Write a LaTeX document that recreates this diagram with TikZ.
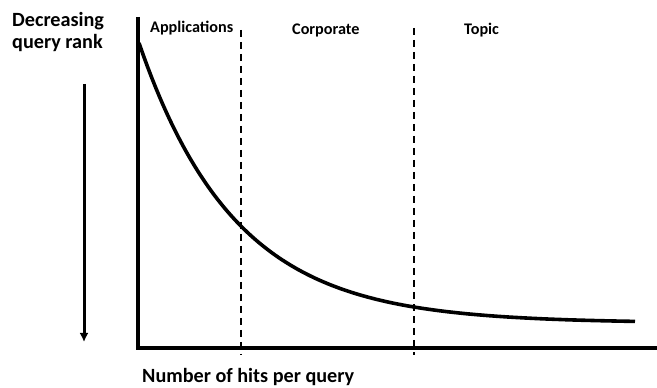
\documentclass[tikz,border=0pt]{standalone}
\usepackage{fontspec}
\setmainfont{Carlito}
\usetikzlibrary{arrows.meta}
\begin{document}
\begin{tikzpicture}[x=1pt,y=1pt,
  lbl/.style={font=\bfseries\fontsize{20.2}{22}\selectfont, inner sep=0pt, anchor=base west},
  reg/.style={font=\bfseries\fontsize{16.2}{18}\selectfont, inner sep=0pt, anchor=base west},
  axis/.style={line width=3.4pt},
  divider/.style={line width=1.7pt, dash pattern=on 7pt off 5pt},
  curve/.style={line width=3.6pt}]
\useasboundingbox (0,0) rectangle (657,388);
% labels
\node[lbl] (dec) at (12,361) {Decreasing};
\node[lbl] (qr) at (12,339) {query rank};
\node[reg] (app) at (150,355) {Applications};
\node[reg] (corp) at (292,353) {Corporate};
\node[reg] (top) at (464,353) {Topic};
\node[lbl] (num) at (142,5) {Number of hits per query};
% axes
\coordinate (o) at (138,40);
\coordinate (ytop) at (138,371);
\coordinate (xend) at (657,40);
\draw[axis] (ytop) -- (o) -- (xend);
% arrow
\coordinate (ar1) at (84,304);
\coordinate (ar2) at (84,46);
\draw[line width=3pt, -{Latex[length=9pt,width=9pt]}] (ar1) -- (ar2);
% dividers
\coordinate (d1t) at (241,358);
\coordinate (d1b) at (241,33);
\coordinate (d2t) at (414,360);
\coordinate (d2b) at (414,33);
\draw[divider] (d1t) -- (d1b);
\draw[divider] (d2t) -- (d2b);
% curve
\draw[curve, domain=139:635, samples=120, smooth] plot (\x, {65 + 280*exp(-0.0104*(\x-139))});
\end{tikzpicture}
\end{document}
